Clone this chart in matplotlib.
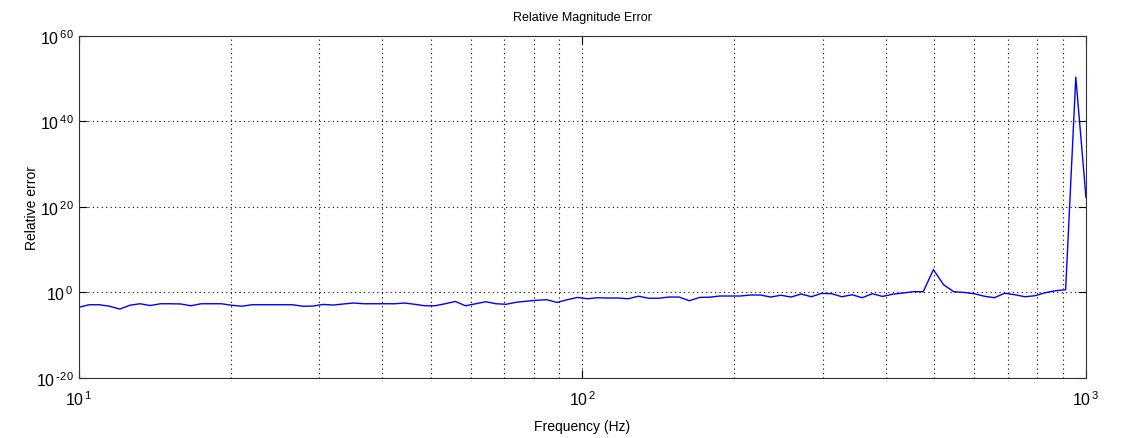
import numpy as np
import matplotlib
matplotlib.use("Agg")
import matplotlib.pyplot as plt
from matplotlib.ticker import LogLocator, NullFormatter, FixedLocator, FuncFormatter

plt.rcParams['font.family'] = ['Liberation Sans', 'DejaVu Sans']

# frequency grid (100 log-spaced points, 10 Hz .. 1 kHz)
freq = np.logspace(1, 3, 100)

# log10 of the relative magnitude error
log_err = [
    -3.47, -2.88, -2.88, -3.23, -3.89, -3.00, -2.65, -3.07, -2.65, -2.65,
    -2.70, -3.12, -2.65, -2.65, -2.65, -3.00, -3.23, -2.88, -2.88, -2.88,
    -2.88, -2.88, -3.23, -3.19, -2.81, -2.95, -2.70, -2.48, -2.65, -2.65,
    -2.65, -2.65, -2.48, -2.77, -3.12, -3.12, -2.65, -2.11, -3.12, -2.65,
    -2.18, -2.65, -2.77, -2.30, -2.06, -1.83, -1.71, -2.34, -1.71, -1.17,
    -1.48, -1.24, -1.31, -1.31, -1.48, -0.89, -1.36, -1.36, -1.08, -1.08,
    -1.95, -1.17, -1.12, -0.84, -0.84, -0.84, -0.61, -0.61, -1.08, -0.66,
    -1.08, -0.37, -1.01, -0.23, -0.30, -1.01, -0.54, -1.24, -0.30, -0.94,
    -0.42, -0.14, 0.16, 0.16, 5.32, 1.80, 0.16, 0.00, -0.30, -0.89,
    -1.24, -0.19, -0.54, -1.01, -0.77, -0.07, 0.40, 0.63, 50.3, 22.2,
]
rel_err = 10.0 ** np.array(log_err)


def pow10(v, pos):
    e = int(round(np.log10(v)))
    s = r'\text{-}%d' % -e if e < 0 else '%d' % e
    return r'$\mathregular{10^{\,%s}}$' % s


fig = plt.figure(figsize=(11.27, 4.39), dpi=100)
ax = fig.add_axes([0.0701, 0.1367, 0.8935, 0.7797])

ax.loglog(freq, rel_err, color='#0000ff', lw=1.0)

ax.set_xlim(10, 1000)
ax.set_ylim(1e-20, 1e60)
ax.yaxis.set_major_locator(FixedLocator([1e-20, 1e0, 1e20, 1e40, 1e60]))
ax.yaxis.set_minor_locator(FixedLocator([]))
ax.xaxis.set_major_locator(LogLocator(base=10))
ax.xaxis.set_minor_locator(LogLocator(base=10, subs=np.arange(2, 10)))
ax.xaxis.set_minor_formatter(NullFormatter())
ax.xaxis.set_major_formatter(FuncFormatter(pow10))
ax.yaxis.set_major_formatter(FuncFormatter(pow10))

ax.grid(True, which='both', color='black', linestyle=(0, (1, 3)), lw=0.8)
ax.tick_params(which='both', direction='in', top=True, right=True,
               labelsize=11.5, color='black')
ax.tick_params(which='major', length=6)
ax.tick_params(which='minor', length=0)
ax.tick_params(axis='x', pad=8)
ax.tick_params(axis='y', pad=4)
for s in ax.spines.values():
    s.set_color('#333333')

ax.set_title('Relative Magnitude Error', fontsize=9, pad=11)
ax.set_xlabel('Frequency (Hz)', fontsize=10, labelpad=8)
ax.set_ylabel('Relative error', fontsize=10)
ax.yaxis.set_label_coords(-0.04, 0.5)

fig.savefig('out.png', dpi=100)
